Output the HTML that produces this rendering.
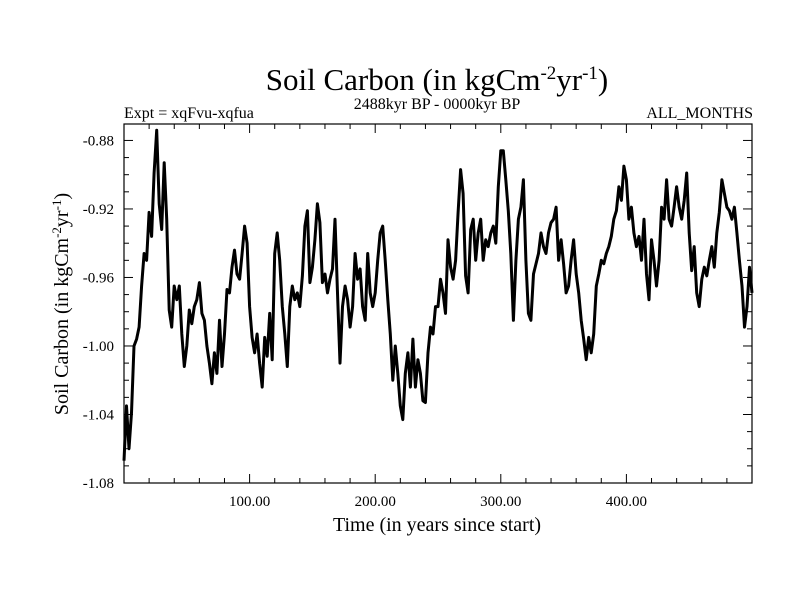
<!DOCTYPE html>
<html><head><meta charset="utf-8"><style>
body{margin:0;background:#fff;}
svg{display:block;font-family:"Liberation Serif",serif;}
</style></head><body>
<svg id="chart" width="800" height="600">
<text x="437" y="90" font-size="31" text-anchor="middle">Soil Carbon (in kgCm<tspan dy="-11" font-size="19">-2</tspan><tspan dy="11">yr</tspan><tspan dy="-11" font-size="19">-1</tspan><tspan dy="11">)</tspan></text>
<text x="124" y="118" font-size="16">Expt = xqFvu-xqfua</text>
<text x="437" y="109" font-size="16" text-anchor="middle">2488kyr BP - 0000kyr BP</text>
<text x="753" y="118" font-size="16" text-anchor="end">ALL_MONTHS</text>
<text x="437" y="531" font-size="20" text-anchor="middle">Time (in years since start)</text>
<text transform="translate(68,304) rotate(-90)" font-size="20" text-anchor="middle">Soil Carbon (in kgCm<tspan dy="-7" font-size="13">-2</tspan><tspan dy="7">yr</tspan><tspan dy="-7" font-size="13">-1</tspan><tspan dy="7">)</tspan></text>
<g id="ticks"></g>
<path id="series" fill="none" stroke="#000" stroke-width="3" stroke-linejoin="round"></path>
<rect x="124" y="124" width="628" height="359" fill="none" stroke="#000" stroke-width="1.2"/>
</svg>
<script>
const xStart = 0, xStep = 2;
const yValues = [-1.067,-1.035,-1.060,-1.039,-1.000,-0.996,-0.989,-0.965,-0.946,-0.950,-0.922,-0.936,-0.899,-0.874,-0.917,-0.932,-0.893,-0.926,-0.979,-0.989,-0.965,-0.973,-0.965,-0.993,-1.012,-1.000,-0.979,-0.987,-0.977,-0.973,-0.963,-0.981,-0.985,-1.000,-1.010,-1.022,-1.004,-1.016,-0.985,-1.012,-0.993,-0.967,-0.969,-0.954,-0.944,-0.958,-0.961,-0.946,-0.930,-0.940,-0.977,-0.995,-1.004,-0.993,-1.010,-1.024,-0.995,-1.006,-0.981,-1.008,-0.946,-0.934,-0.950,-0.977,-0.993,-1.012,-0.977,-0.965,-0.973,-0.969,-0.977,-0.959,-0.930,-0.921,-0.963,-0.954,-0.938,-0.917,-0.928,-0.963,-0.958,-0.969,-0.961,
-0.955,-0.926,-0.969,-1.010,-0.977,-0.965,-0.973,-0.989,-0.977,-0.946,-0.961,-0.955,-0.977,-0.985,-0.946,-0.969,-0.977,-0.969,-0.950,-0.934,-0.930,-0.950,-0.973,-0.993,-1.020,-1.000,-1.016,-1.035,-1.043,-1.016,-1.004,-1.024,-0.996,-1.024,-1.008,-1.016,-1.032,-1.033,-1.004,-0.989,-0.993,-0.977,-0.977,-0.961,-0.969,-0.981,-0.938,-0.954,-0.961,-0.950,-0.922,-0.897,-0.911,-0.959,-0.969,-0.932,-0.926,-0.950,-0.934,-0.926,-0.950,-0.938,-0.942,-0.934,-0.930,-0.940,-0.907,-0.886,-0.886,-0.903,-0.921,-0.946,-0.985,-0.950,-0.926,-0.919,-0.903,-0.950,-0.981,-0.985,-0.958,-0.952,-0.946,-0.934,-0.942,-0.946,-0.934,-0.928,
-0.926,-0.919,-0.950,-0.938,-0.952,-0.969,-0.965,-0.950,-0.938,-0.958,-0.969,-0.985,-0.996,-1.008,-0.995,-1.004,-0.993,-0.965,-0.958,-0.950,-0.952,-0.946,-0.942,-0.936,-0.926,-0.921,-0.907,-0.915,-0.895,-0.903,-0.926,-0.919,-0.934,-0.942,-0.936,-0.950,-0.926,-0.958,-0.973,-0.938,-0.950,-0.965,-0.950,-0.919,-0.926,-0.903,-0.926,-0.930,-0.919,-0.907,-0.919,-0.926,-0.915,-0.899,-0.934,-0.956,-0.942,-0.969,-0.977,-0.961,-0.954,-0.959,-0.950,-0.942,-0.954,-0.934,-0.922,-0.903,-0.911,-0.919,-0.921,-0.926,-0.919,-0.934,-0.950,-0.965,-0.989,-0.977,-0.954,-0.969];
const xTickValues = [100,200,300,400];
const xTickLabels = ["100.00","200.00","300.00","400.00"];
const yTickValues = [-0.88,-0.92,-0.96,-1.00,-1.04,-1.08];
const yTickLabels = ["-0.88","-0.92","-0.96","-1.00","-1.04","-1.08"];

const L=124,R=752,T=124,B=483,xMin=0,xMax=500,yMin=-1.08,yMax=-0.8704;
const sx=v=>L+(v-xMin)/(xMax-xMin)*(R-L);
const sy=v=>B-(v-yMin)/(yMax-yMin)*(B-T);
const NS="http://www.w3.org/2000/svg";
const g=document.getElementById('ticks');
function line(x1,y1,x2,y2,name){const l=document.createElementNS(NS,'line');
l.setAttribute('x1',x1);l.setAttribute('y1',y1);l.setAttribute('x2',x2);l.setAttribute('y2',y2);
l.setAttribute('stroke','#000');l.setAttribute('stroke-width','1');


g.appendChild(l);}
function text(x,y,s,anchor,name){const t=document.createElementNS(NS,'text');
t.setAttribute('x',x);t.setAttribute('y',y);t.setAttribute('font-size','15');t.setAttribute('text-anchor',anchor);t.textContent=s;


g.appendChild(t);}
for(let v=20;v<500;v+=20){const x=sx(v);const major=v%100===0;const len=major?9:5;
line(x,B,x,B-len,'x-tick');line(x,T,x,T+len,'x-tick-top');}
xTickValues.forEach((v,i)=>text(sx(v),506,xTickLabels[i],'middle','x-tick-label'));
for(let k=0;k<=20;k++){const v=-1.08+k*0.01;if(v>yMax)break;const y=sy(v);const major=k%4===0;const len=major?9:5;
line(L,y,L+len,y,'y-tick');line(R,y,R-len,y,'y-tick-right');}
yTickValues.forEach((v,i)=>text(114,sy(v)+5,yTickLabels[i],'end','y-tick-label'));
let d='';yValues.forEach((v,i)=>{d+=(i?'L':'M')+sx(xStart+i*xStep).toFixed(1)+','+sy(v).toFixed(1);});
document.getElementById('series').setAttribute('d',d);
</script>
</body></html>
